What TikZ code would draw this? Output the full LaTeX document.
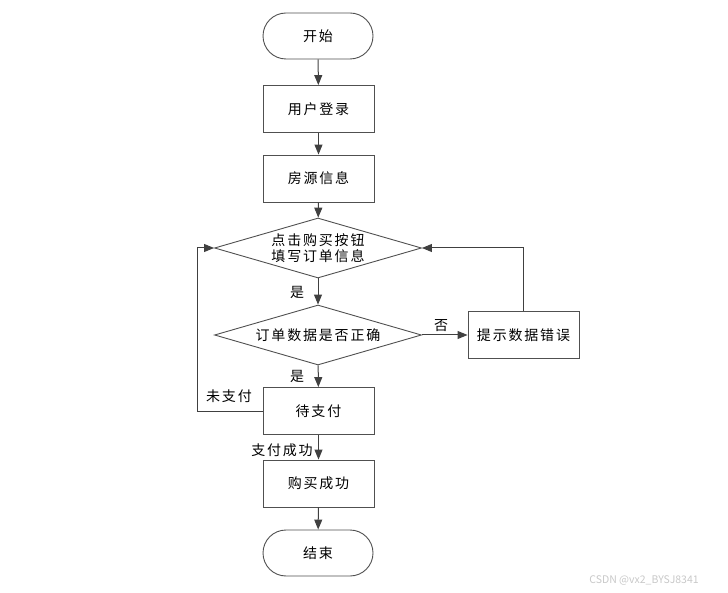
\documentclass[tikz,border=0pt]{standalone}
\usepackage{fontspec}
\setmainfont[LetterSpace=13]{Noto Sans CJK SC}
\newfontfamily\wmfont{Noto Sans CJK SC}
\usetikzlibrary{shapes.geometric,arrows.meta}
\definecolor{ln}{HTML}{404040}
\definecolor{bd}{HTML}{505050}
\definecolor{wm}{HTML}{C8C8C8}
\begin{document}
\begin{tikzpicture}[x=1pt,y=1pt,
  font=\fontsize{14}{17}\selectfont,
  box/.style={draw=bd,line width=0.9pt,minimum width=111pt,minimum height=47pt,inner sep=0pt,fill=white},
  term/.style={draw=bd,line width=0.9pt,minimum width=110pt,minimum height=46pt,rounded corners=23pt,inner sep=0pt},
  dia/.style={draw=bd,line width=0.9pt,shape=diamond,aspect=3.45,minimum width=207pt,minimum height=60pt,inner sep=0pt,align=center},
  arr/.style={draw=ln,line width=1pt,-{Triangle[width=8pt,length=10pt]}},
  lbl/.style={inner sep=0pt}]
\useasboundingbox (0,0) rectangle (728,-593);
\node[term] (start) at (318,-36) {开始};
\node[box] (login) at (318.5,-109) {用户登录};
\node[box] (info) at (318.5,-178.5) {房源信息};
\node[dia] (d1) at (318,-248) {点击购买按钮\\[-1pt]填写订单信息};
\node[dia] (d2) at (318,-335) {订单数据是否正确};
\node[box] (err) at (523.5,-335) {提示数据错误};
\node[box] (wait) at (318.5,-411) {待支付};
\node[box] (ok) at (318.5,-483.5) {购买成功};
\node[term] (end) at (318,-553) {结束};
\coordinate (loopc) at (197,-411);
\draw[arr] (start) -- (login);
\draw[arr] (login) -- (info);
\draw[arr] (info) -- (d1);
\draw[arr] (d1) -- (d2);
\draw[arr] (d2) -- (err);
\draw[arr] (err.north) |- (d1.east);
\draw[arr] (d2) -- (wait);
\draw[arr] (wait.west) -- (loopc) |- (d1.west);
\draw[arr] (wait) -- (ok);
\draw[arr] (ok) -- (end);
\node[lbl] (l1) at (297,-292) {是};
\node[lbl] (l2) at (297,-376) {是};
\node[lbl] (l3) at (441,-326) {否};
\node[lbl] (l4) at (229,-396) {未支付};
\node[lbl] (l5) at (282,-450) {支付成功};
\node[lbl,text=wm,font=\wmfont\fontsize{10.5}{12}\selectfont] (wmk) at (644,-580) {CSDN @vx2\_BYSJ8341};
\end{tikzpicture}
\end{document}
